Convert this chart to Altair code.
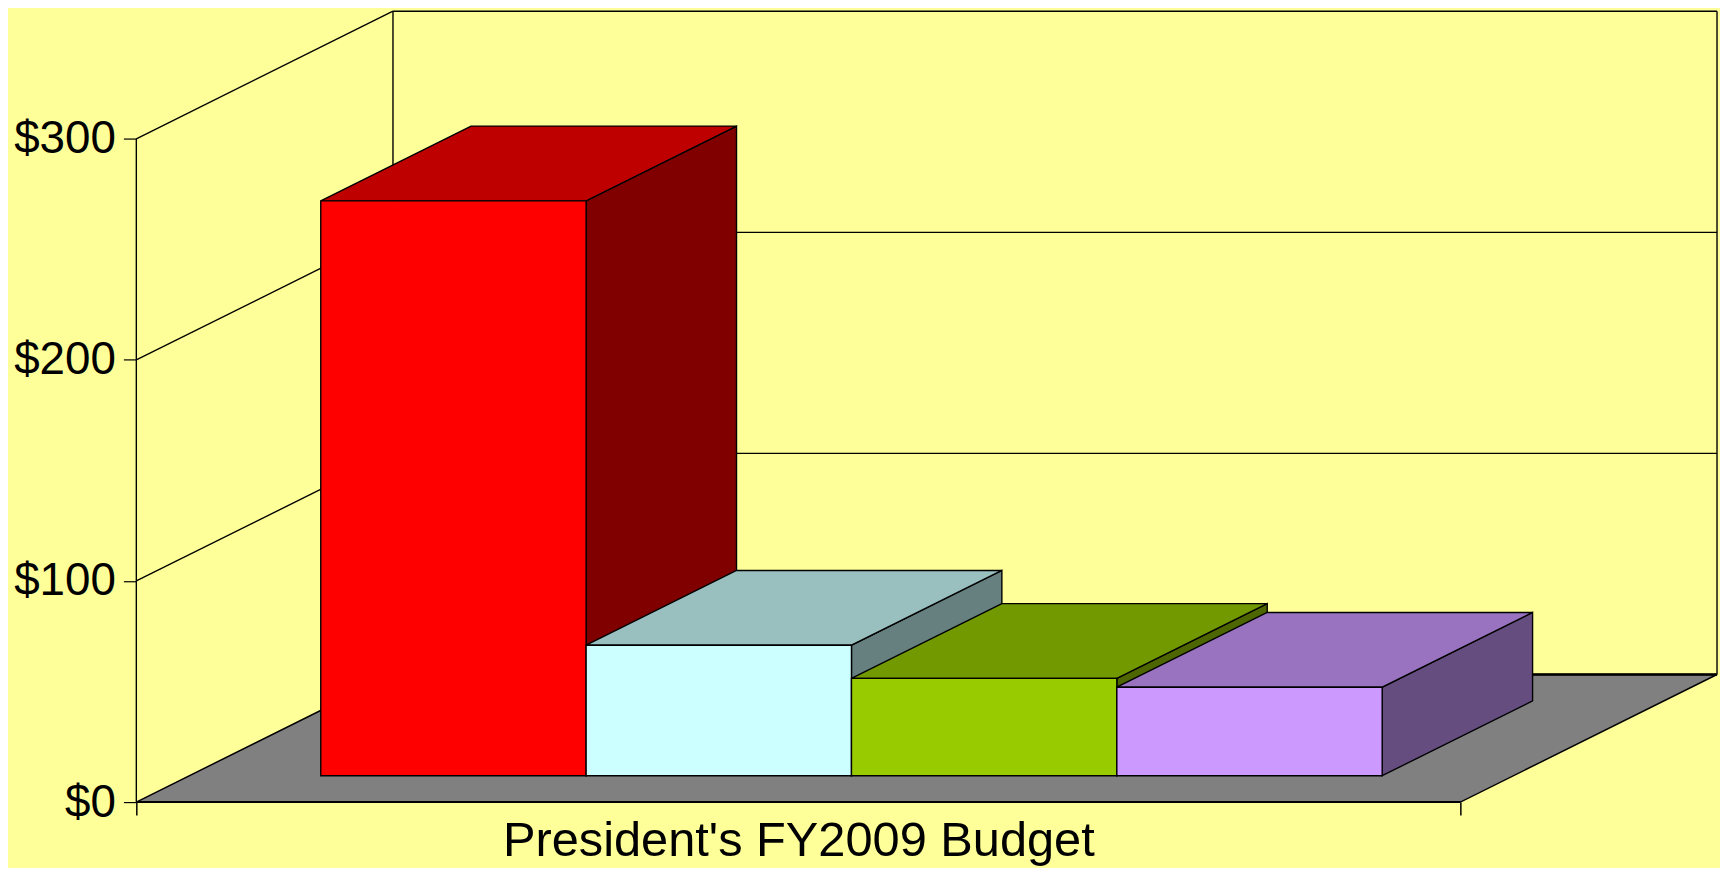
import altair as alt
import pandas as pd

# ---- data ----
series = ["Series 1", "Series 2", "Series 3", "Series 4"]
values = [260, 59, 44, 40]
front_colors = ["#FF0000", "#CCFFFF", "#99CC00", "#CC99FF"]
top_colors = ["#BF0000", "#99BFBF", "#739900", "#9973BF"]
side_colors = ["#800000", "#668080", "#4D6600", "#664D80"]
y_ticks = [0, 100, 200, 300]
x_title = "President's FY2009 Budget"

# ---- 3-D layout constants (oblique projection) ----
FLOOR_W = 1331.0          # width of the floor's front edge (x units)
DEPTH_X = 258.0           # horizontal shift from front plane to back wall
DEPTH_Y = 57.7            # vertical shift (in $) from front plane to back wall
D0, D1 = 0.207, 0.793     # depth of bar front / back faces
GAP = 132.0               # gap between floor edge and first / last bar
BAR_W = (FLOOR_W - 2 * GAP) / len(series)
XMAX = FLOOR_W + DEPTH_X
YMAX = max(y_ticks) + DEPTH_Y
W, H = 1589, 795
FONT = "Liberation Sans"

xs = alt.Scale(domain=[0, XMAX], nice=False, zero=False)
ys = alt.Scale(domain=[0, YMAX], nice=False, zero=False)

x_axis = alt.Axis(
    values=[0, FLOOR_W], labels=False, domain=False, grid=False,
    ticks=True, tickSize=13, tickColor="black", tickWidth=1.5,
    title=x_title, titleFont=FONT, titleFontSize=49, titleFontWeight="normal",
    titleColor="black", titleX=FLOOR_W / 2 / XMAX * W, titleY=54,
    titleAlign="center", titleBaseline="alphabetic")
y_axis = alt.Axis(
    values=y_ticks, format="$,.0f", domain=False, grid=False,
    ticks=True, tickSize=13, tickColor="black", tickWidth=1.2,
    labelFont=FONT, labelFontSize=46, labelColor="black", labelPadding=8,
    title=None)


def X(field="x"):
    return alt.X(f"{field}:Q", scale=xs, axis=x_axis)


def Y(field="y"):
    return alt.Y(f"{field}:Q", scale=ys, axis=y_axis)


# ---- derived tables ----
front = pd.DataFrame({
    "s": series,
    "x": [GAP + i * BAR_W + D0 * DEPTH_X for i in range(len(series))],
    "x2": [GAP + (i + 1) * BAR_W + D0 * DEPTH_X for i in range(len(series))],
    "y": [D0 * DEPTH_Y] * len(series),
    "y2": [v + D0 * DEPTH_Y for v in values],
})
side_rows, top_rows = [], []
for i, (s, v) in enumerate(zip(series, values)):
    for d in (D0, D1):
        side_rows.append({"s": s, "x": GAP + (i + 1) * BAR_W + d * DEPTH_X,
                          "y": v + d * DEPTH_Y, "y2": d * DEPTH_Y})
        top_rows.append({"s": s, "y": v + d * DEPTH_Y,
                         "x": GAP + i * BAR_W + d * DEPTH_X,
                         "x2": GAP + (i + 1) * BAR_W + d * DEPTH_X})
side = pd.DataFrame(side_rows)
top = pd.DataFrame(top_rows)

floor = pd.DataFrame({"y": [0, DEPTH_Y], "x": [0, DEPTH_X], "x2": [FLOOR_W, XMAX]})

grid_rows = []
for t in y_ticks[1:]:
    grid_rows.append({"x": 0, "y": t, "x2": DEPTH_X, "y2": t + DEPTH_Y})       # left wall
    grid_rows.append({"x": DEPTH_X, "y": t + DEPTH_Y, "x2": XMAX, "y2": t + DEPTH_Y})  # back wall
grid_rows.append({"x": DEPTH_X, "y": DEPTH_Y, "x2": DEPTH_X, "y2": max(y_ticks) + DEPTH_Y})
grid_rows.append({"x": XMAX, "y": DEPTH_Y, "x2": XMAX, "y2": max(y_ticks) + DEPTH_Y})
grid_rows.append({"x": 0, "y": 0, "x2": 0, "y2": max(y_ticks)})
grid = pd.DataFrame(grid_rows)

edges = pd.DataFrame([
    {"x": 0, "y": 0, "x2": FLOOR_W, "y2": 0, "w": 2.0},
    {"x": DEPTH_X, "y": DEPTH_Y, "x2": XMAX, "y2": DEPTH_Y, "w": 2.5},
])

# ---- layers ----
floor_layer = alt.Chart(floor).mark_area(
    orient="horizontal", color="#808080", stroke="black", strokeWidth=1.5
).encode(y=Y(), x=X(), x2="x2:Q")

grid_layer = alt.Chart(grid).mark_rule(color="black", strokeWidth=1.4).encode(
    x=X(), y=Y(), x2="x2:Q", y2="y2:Q")

edge_layer = alt.Chart(edges).mark_rule(color="black").encode(
    x=X(), y=Y(), x2="x2:Q", y2="y2:Q",
    strokeWidth=alt.StrokeWidth("w:Q", scale=None))

side_layer = alt.Chart(side).mark_area(stroke="black", strokeWidth=1.4, opacity=1).encode(
    x=X(), y=Y(), y2="y2:Q",
    color=alt.Color("s:N", scale=alt.Scale(domain=series, range=side_colors), legend=None))

top_layer = alt.Chart(top).mark_area(orient="horizontal", stroke="black", strokeWidth=1.4,
                                     opacity=1).encode(
    y=Y(), x=X(), x2="x2:Q",
    color=alt.Color("s:N", scale=alt.Scale(domain=series, range=top_colors), legend=None))

front_layer = alt.Chart(front).mark_rect(stroke="black", strokeWidth=1.4, opacity=1).encode(
    x=X(), x2="x2:Q", y=Y(), y2="y2:Q",
    color=alt.Color("s:N", scale=alt.Scale(domain=series, range=front_colors), legend=None))

chart = alt.layer(
    floor_layer, grid_layer, edge_layer, side_layer, top_layer, front_layer
).resolve_scale(color="independent").properties(
    width=W, height=H, background="#FFFF99",
    padding={"left": 5, "top": 0, "right": 0, "bottom": 0},
).configure_view(stroke=None)

chart.save("out.html", embed_options={"renderer": "svg", "actions": False})
